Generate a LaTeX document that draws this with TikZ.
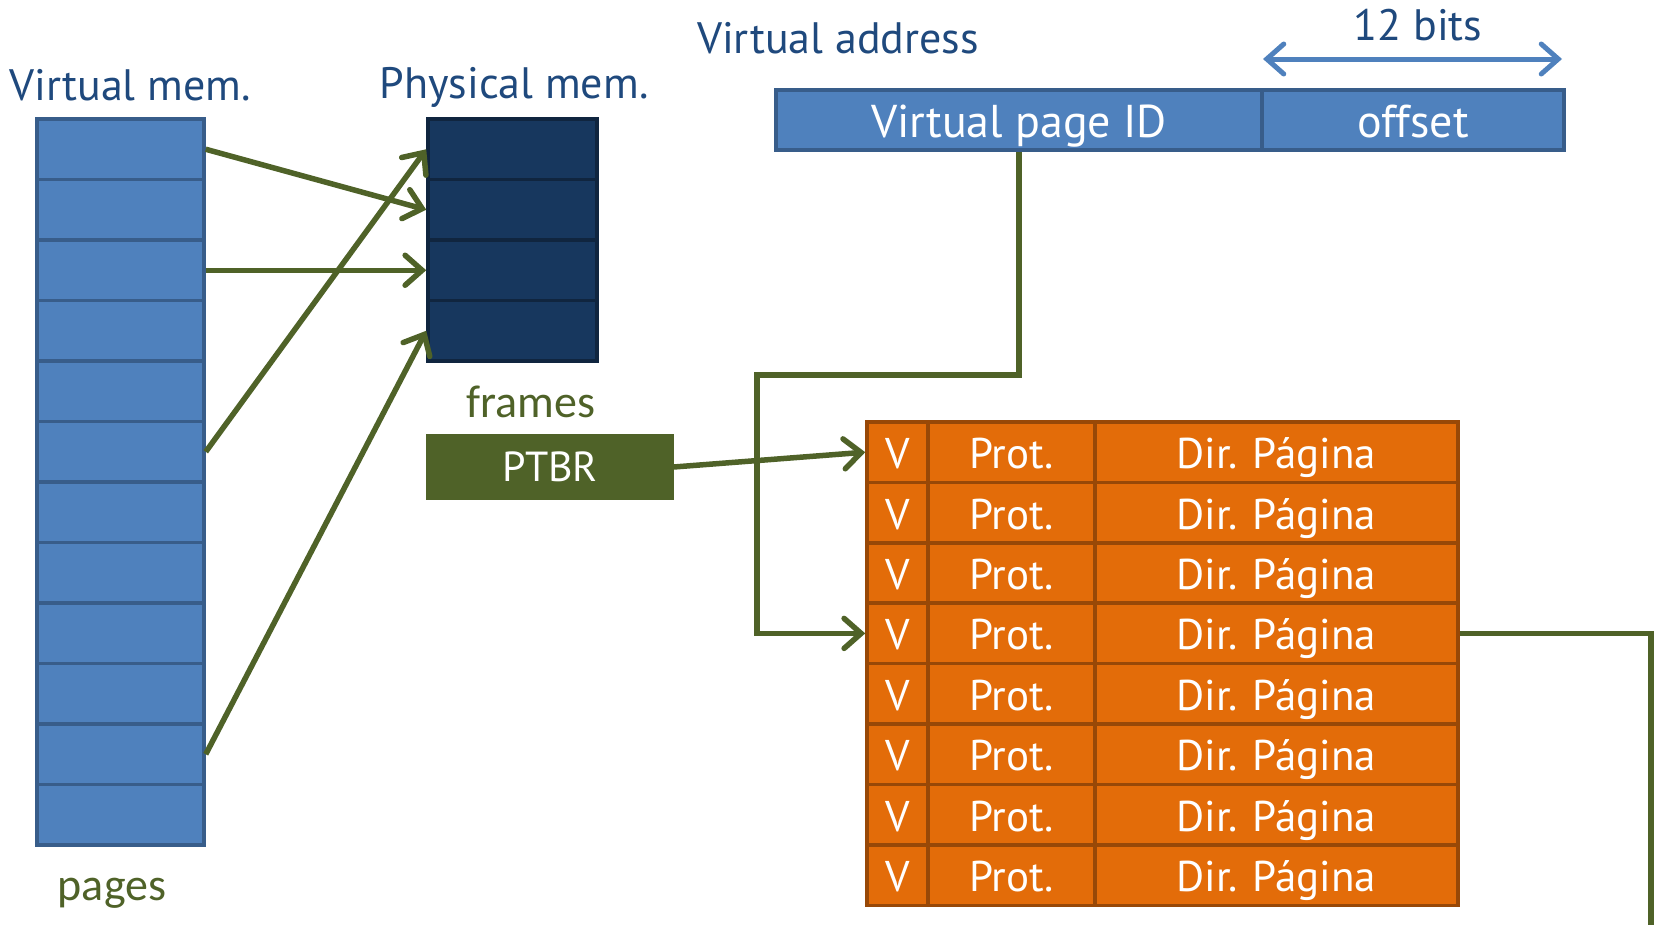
\documentclass[tikz,border=0pt]{standalone}
\usepackage{fontspec}
\setmainfont{PT Sans}
\newfontfamily\calfont{Carlito}
\usetikzlibrary{arrows.meta}
\definecolor{ofblue}{HTML}{4F81BD}
\definecolor{ofblueb}{HTML}{385D8A}
\definecolor{navy}{HTML}{17375E}
\definecolor{navyb}{HTML}{10253F}
\definecolor{olive}{HTML}{4F6228}
\definecolor{ornge}{HTML}{E36C09}
\definecolor{orngeb}{HTML}{984807}
\definecolor{titleblue}{HTML}{1F497D}
\begin{document}
\begin{tikzpicture}[x=1pt,y=-1pt,
  box/.style={draw, line width=3.5pt, inner sep=0pt, minimum height=60.5pt},
  vcell/.style={box, fill=ofblue, draw=ofblueb, minimum width=167pt},
  pcell/.style={box, fill=navy, draw=navyb, minimum width=169pt},
  tcell/.style={box, fill=ornge, draw=orngeb, text=white,
    font=\fontsize{43}{50}\selectfont, text height=33pt, text depth=0pt},
  vabox/.style={box, fill=ofblue, draw=ofblueb, minimum height=60pt, text=white,
    font=\fontsize{46}{54}\selectfont, text height=34pt, text depth=0pt},
  title/.style={text=titleblue, font=\fontsize{44}{52}\selectfont, anchor=base, inner sep=0pt},
  greenlbl/.style={text=olive, font=\calfont\fontsize{46}{54}\selectfont, anchor=base, inner sep=0pt},
  conn/.style={draw=olive, line width=5.5pt},
  barb/.tip={Straight Barb[length=17pt,width=30pt,line cap=round]},
  tip/.style={-barb},
]
\useasboundingbox (0,0) rectangle (1654,924);

% virtual memory pages
\foreach \i in {1,...,12}
  \node[vcell] (v\i) at (120.5,{119+60.5*(\i-0.5)}) {};
% physical frames
\foreach \i in {1,...,4}
  \node[pcell] (p\i) at (512.5,{119+60.5*(\i-0.5)}) {};

\node[title] (tvm) at (130,100) {Virtual mem.};
\node[title] (tpm) at (514,98) {Physical mem.};
\node[greenlbl] (tpages) at (112,900) {pages};
\node[greenlbl] (tframes) at (531,417) {frames};

% page-table base register
\node[box, fill=olive, draw=olive, minimum width=244pt, minimum height=62pt,
  text=white, font=\fontsize{42}{50}\selectfont] (ptbr) at (550,467) {PTBR};

% virtual address
\node[title] (tva) at (838,53) {Virtual address};
\node[title] (tbits) at (1418,40) {12 bits};
\node[vabox, minimum width=486pt] (vpid) at (1019,120) {Virtual page ID};
\node[vabox, minimum width=302pt] (voff) at (1413,120) {offset};
\coordinate (bl) at (1263,59);
\coordinate (br) at (1562,59);
\draw[ofblue, line width=5pt, barb-barb] (bl) -- (br);

% page table
\foreach \i in {1,...,8}{
  \node[tcell, minimum width=61pt] (t\i v) at (897.5,{422+60.4*(\i-0.5)}) {V};
  \node[tcell, minimum width=167pt] (t\i p) at (1011.5,{422+60.4*(\i-0.5)}) {Prot.};
  \node[tcell, minimum width=363pt] (t\i d) at (1276.5,{422+60.4*(\i-0.5)}) {Dir. Página};
}

% page -> frame mappings
\draw[conn, tip] (v1.east) -- (p2.west);
\draw[conn, tip] (v3.east) -- (p3.west);
\draw[conn, tip] (v6.east) -- (p1.west);
\draw[conn, tip] (v11.east) -- (p4.west);

% PTBR points to the table
\draw[conn, tip] (ptbr.east) -- (t1v.west);

% page ID indexes the table
\coordinate (bend) at (757,375);
\draw[conn, tip] (vpid.south) |- (bend) |- (t4v.west);

% selected entry leaves to the right
\coordinate (out) at (1651,930);
\draw[conn] (t4d.east) -| (out);
\end{tikzpicture}
\end{document}
